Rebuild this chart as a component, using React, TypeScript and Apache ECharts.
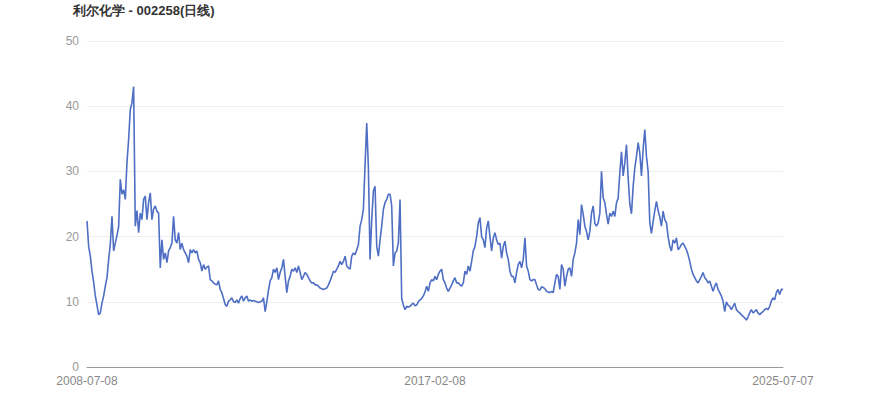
import React, { useEffect, useRef } from "react";
import * as echarts from "echarts";

const titleText = "利尔化学 - 002258(日线)";
const startDate = "2008-07-08";
const midDate = "2017-02-08";
const endDate = "2025-07-07";

const prices2008to2011 = [
  22.4, 18.5, 17.0, 14.7, 13.0, 10.9, 9.5, 8.0, 8.3, 9.8,
  10.9, 12.4, 13.7, 16.5, 18.8, 23.1, 17.8, 19.0, 20.2, 21.5,
  28.8, 26.5, 27.2, 25.7, 31.3, 34.9, 39.5, 40.5, 43.0, 21.6,
  24.0, 20.6, 23.6, 22.6, 25.7, 26.2, 22.6, 25.2, 26.7, 22.6,
  24.2, 24.7, 23.9, 23.6, 15.2, 19.5, 16.5, 17.5, 16.0, 17.8,
  18.3, 19.0, 23.1, 19.5, 19.0, 20.6, 18.0, 19.0, 18.0, 17.5,
  17.0, 16.0, 18.0, 17.5, 18.0, 17.5, 17.8, 16.5,
];
const prices2011to2014 = [
  16.0, 14.7, 15.7, 15.0, 15.3, 15.5, 13.4, 13.2, 12.9, 12.7,
  12.6, 13.2, 11.9, 11.4, 10.5, 9.6, 9.3, 10.1, 10.3, 10.6,
  10.0, 9.9, 10.3, 9.8, 10.5, 10.9, 10.1, 10.6, 10.9, 10.1,
  10.3, 10.1, 10.2, 10.1, 10.0, 9.9, 10.0, 10.1, 10.6, 8.5,
  10.0, 11.8, 13.2, 13.7, 15.0, 14.5, 15.2, 13.4, 14.5, 15.2,
  16.5, 13.9, 11.4, 13.2, 13.9, 15.0, 14.7, 15.2, 14.5, 15.5,
  14.5, 13.4, 13.9, 14.5, 14.2, 13.7, 13.2,
];
const prices2014to2017 = [
  12.9, 12.9, 12.6, 12.6, 12.4, 12.1, 12.0, 11.9, 12.0, 12.1,
  12.6, 13.2, 13.9, 14.7, 14.5, 15.0, 15.5, 16.2, 15.7, 16.2,
  17.0, 15.5, 15.2, 15.0, 17.0, 17.5, 17.2, 18.0, 18.8, 21.6,
  22.6, 24.2, 31.0, 37.4, 30.5, 16.5, 22.6, 27.0, 27.7, 18.5,
  17.0, 19.5, 21.6, 24.2, 25.2, 25.7, 26.5, 26.5, 24.7, 15.5,
  17.5, 17.8, 19.0, 25.7, 10.5, 9.5, 8.8, 9.3, 9.2, 9.3,
  9.6, 9.8, 9.4, 9.5, 10.0, 10.3, 10.5, 10.9, 11.5,
];
const prices2017to2019 = [
  12.4, 11.6, 12.9, 13.4, 13.2, 13.9, 13.4, 14.2, 14.7, 15.0,
  13.4, 12.9, 12.1, 11.6, 12.1, 12.6, 13.2, 13.7, 12.9, 12.9,
  12.6, 12.4, 12.9, 14.7, 14.2, 15.5, 14.7, 16.2, 17.8, 18.5,
  20.0, 22.1, 22.9, 20.0, 19.5, 18.3, 21.3, 22.4, 20.0, 17.8,
  19.8, 20.6, 19.5, 18.8, 19.0, 16.7, 18.5, 19.3, 17.5, 16.5,
  14.7, 13.9, 13.9, 12.9, 14.5, 15.7, 16.2, 15.2, 16.5, 19.8,
  15.5, 14.7, 13.4, 13.2, 13.4, 13.4, 12.6, 11.9,
];
const prices2019to2022 = [
  11.8, 12.3, 12.2, 12.0, 11.6, 11.5, 11.4, 11.6, 11.4, 12.9,
  14.2, 13.9, 11.9, 15.7, 15.0, 12.4, 13.9, 15.0, 15.2, 13.9,
  16.5, 17.5, 19.0, 22.6, 20.3, 24.9, 23.4, 21.6, 20.8, 19.5,
  20.8, 23.6, 24.7, 22.0, 21.6, 22.1, 23.6, 30.0, 26.0, 25.2,
  23.4, 21.9, 23.6, 23.1, 23.9, 23.1, 25.2, 25.9, 29.8, 33.0,
  29.3, 31.3, 34.1, 29.0, 25.0, 23.5, 27.7, 30.5, 32.3, 34.4,
  32.8, 29.3, 33.4, 36.4, 32.3, 30.0, 22.1, 20.5, 22.3,
];
const prices2022to2025 = [
  24.0, 25.4, 24.0, 23.0, 21.6, 23.9, 22.6, 22.1, 20.0, 18.5,
  17.8, 19.5, 19.0, 19.8, 18.0, 18.3, 18.8, 19.0, 18.5, 18.0,
  17.2, 16.2, 15.0, 14.2, 13.7, 13.2, 12.9, 13.4, 13.9, 14.5,
  13.7, 13.4, 12.9, 13.2, 12.4, 11.6, 12.4, 12.9, 11.9, 11.4,
  10.9, 10.1, 8.5, 10.0, 9.5, 9.3, 8.8, 9.3, 9.8, 8.8,
  8.5, 8.3, 8.0, 7.8, 7.5, 7.2, 7.7, 8.3, 8.8, 8.3,
  8.5, 8.8, 8.3, 8.0, 8.3, 8.5, 8.8, 9.0, 8.8, 9.3,
  10.1, 10.6, 10.3, 11.4, 11.9, 11.1, 11.9, 11.9,
];

const prices = [
  ...prices2008to2011,
  ...prices2011to2014,
  ...prices2014to2017,
  ...prices2017to2019,
  ...prices2019to2022,
  ...prices2022to2025,
];

function fmt(ts: number) {
  const d = new Date(ts);
  const m = String(d.getUTCMonth() + 1).padStart(2, "0");
  const day = String(d.getUTCDate()).padStart(2, "0");
  return `${d.getUTCFullYear()}-${m}-${day}`;
}
function toTs(s: string) {
  const [y, m, d] = s.split("-").map(Number);
  return Date.UTC(y, m - 1, d);
}

const n = prices.length;
const midIdx = Math.floor((n - 1) / 2);
const dates: string[] = [];
{
  const a = toTs(startDate), b = toTs(midDate), c = toTs(endDate);
  for (let i = 0; i < n; i++) {
    let ts: number;
    if (i <= midIdx) ts = a + ((b - a) * i) / midIdx;
    else ts = b + ((c - b) * (i - midIdx)) / (n - 1 - midIdx);
    dates.push(fmt(Math.round(ts / 86400000) * 86400000));
  }
  dates[0] = startDate;
  dates[midIdx] = midDate;
  dates[n - 1] = endDate;
}

export default function App() {
  const ref = useRef<HTMLDivElement>(null);
  useEffect(() => {
    if (!ref.current) return;
    const chart = echarts.init(ref.current, null, { renderer: "svg" });
    chart.setOption({
      animation: false,
      title: {
        text: titleText,
        left: 73,
        top: 2,
        padding: 0,
        textStyle: { fontSize: 13, fontWeight: "bold", color: "#333", fontFamily: "sans-serif", lineHeight: 16 },
      },
      grid: { left: 87, right: 87, top: 41, bottom: 50 },
      xAxis: {
        type: "category",
        data: dates,
        boundaryGap: false,
        axisTick: { show: false },
        axisLine: { lineStyle: { color: "#999" } },
        axisLabel: {
          color: "#888",
          fontSize: 12,
          interval: (idx: number) => idx === 0 || idx === midIdx || idx === n - 1,
        },
      },
      yAxis: {
        type: "value",
        min: 0,
        max: 50,
        interval: 10,
        axisLabel: { color: "#999", fontSize: 12 },
        splitLine: { lineStyle: { color: "#eee" } },
      },
      series: [
        {
          type: "line",
          data: prices,
          showSymbol: false,
          lineStyle: { color: "#4f6fc4", width: 1.6 },
          itemStyle: { color: "#4f6fc4" },
        },
      ],
    });
    return () => chart.dispose();
  }, []);
  return (
    <div style={{ position: "absolute", left: 0, top: 0 }}>
      <div ref={ref} style={{ width: 870, height: 417 }} />
    </div>
  );
}
